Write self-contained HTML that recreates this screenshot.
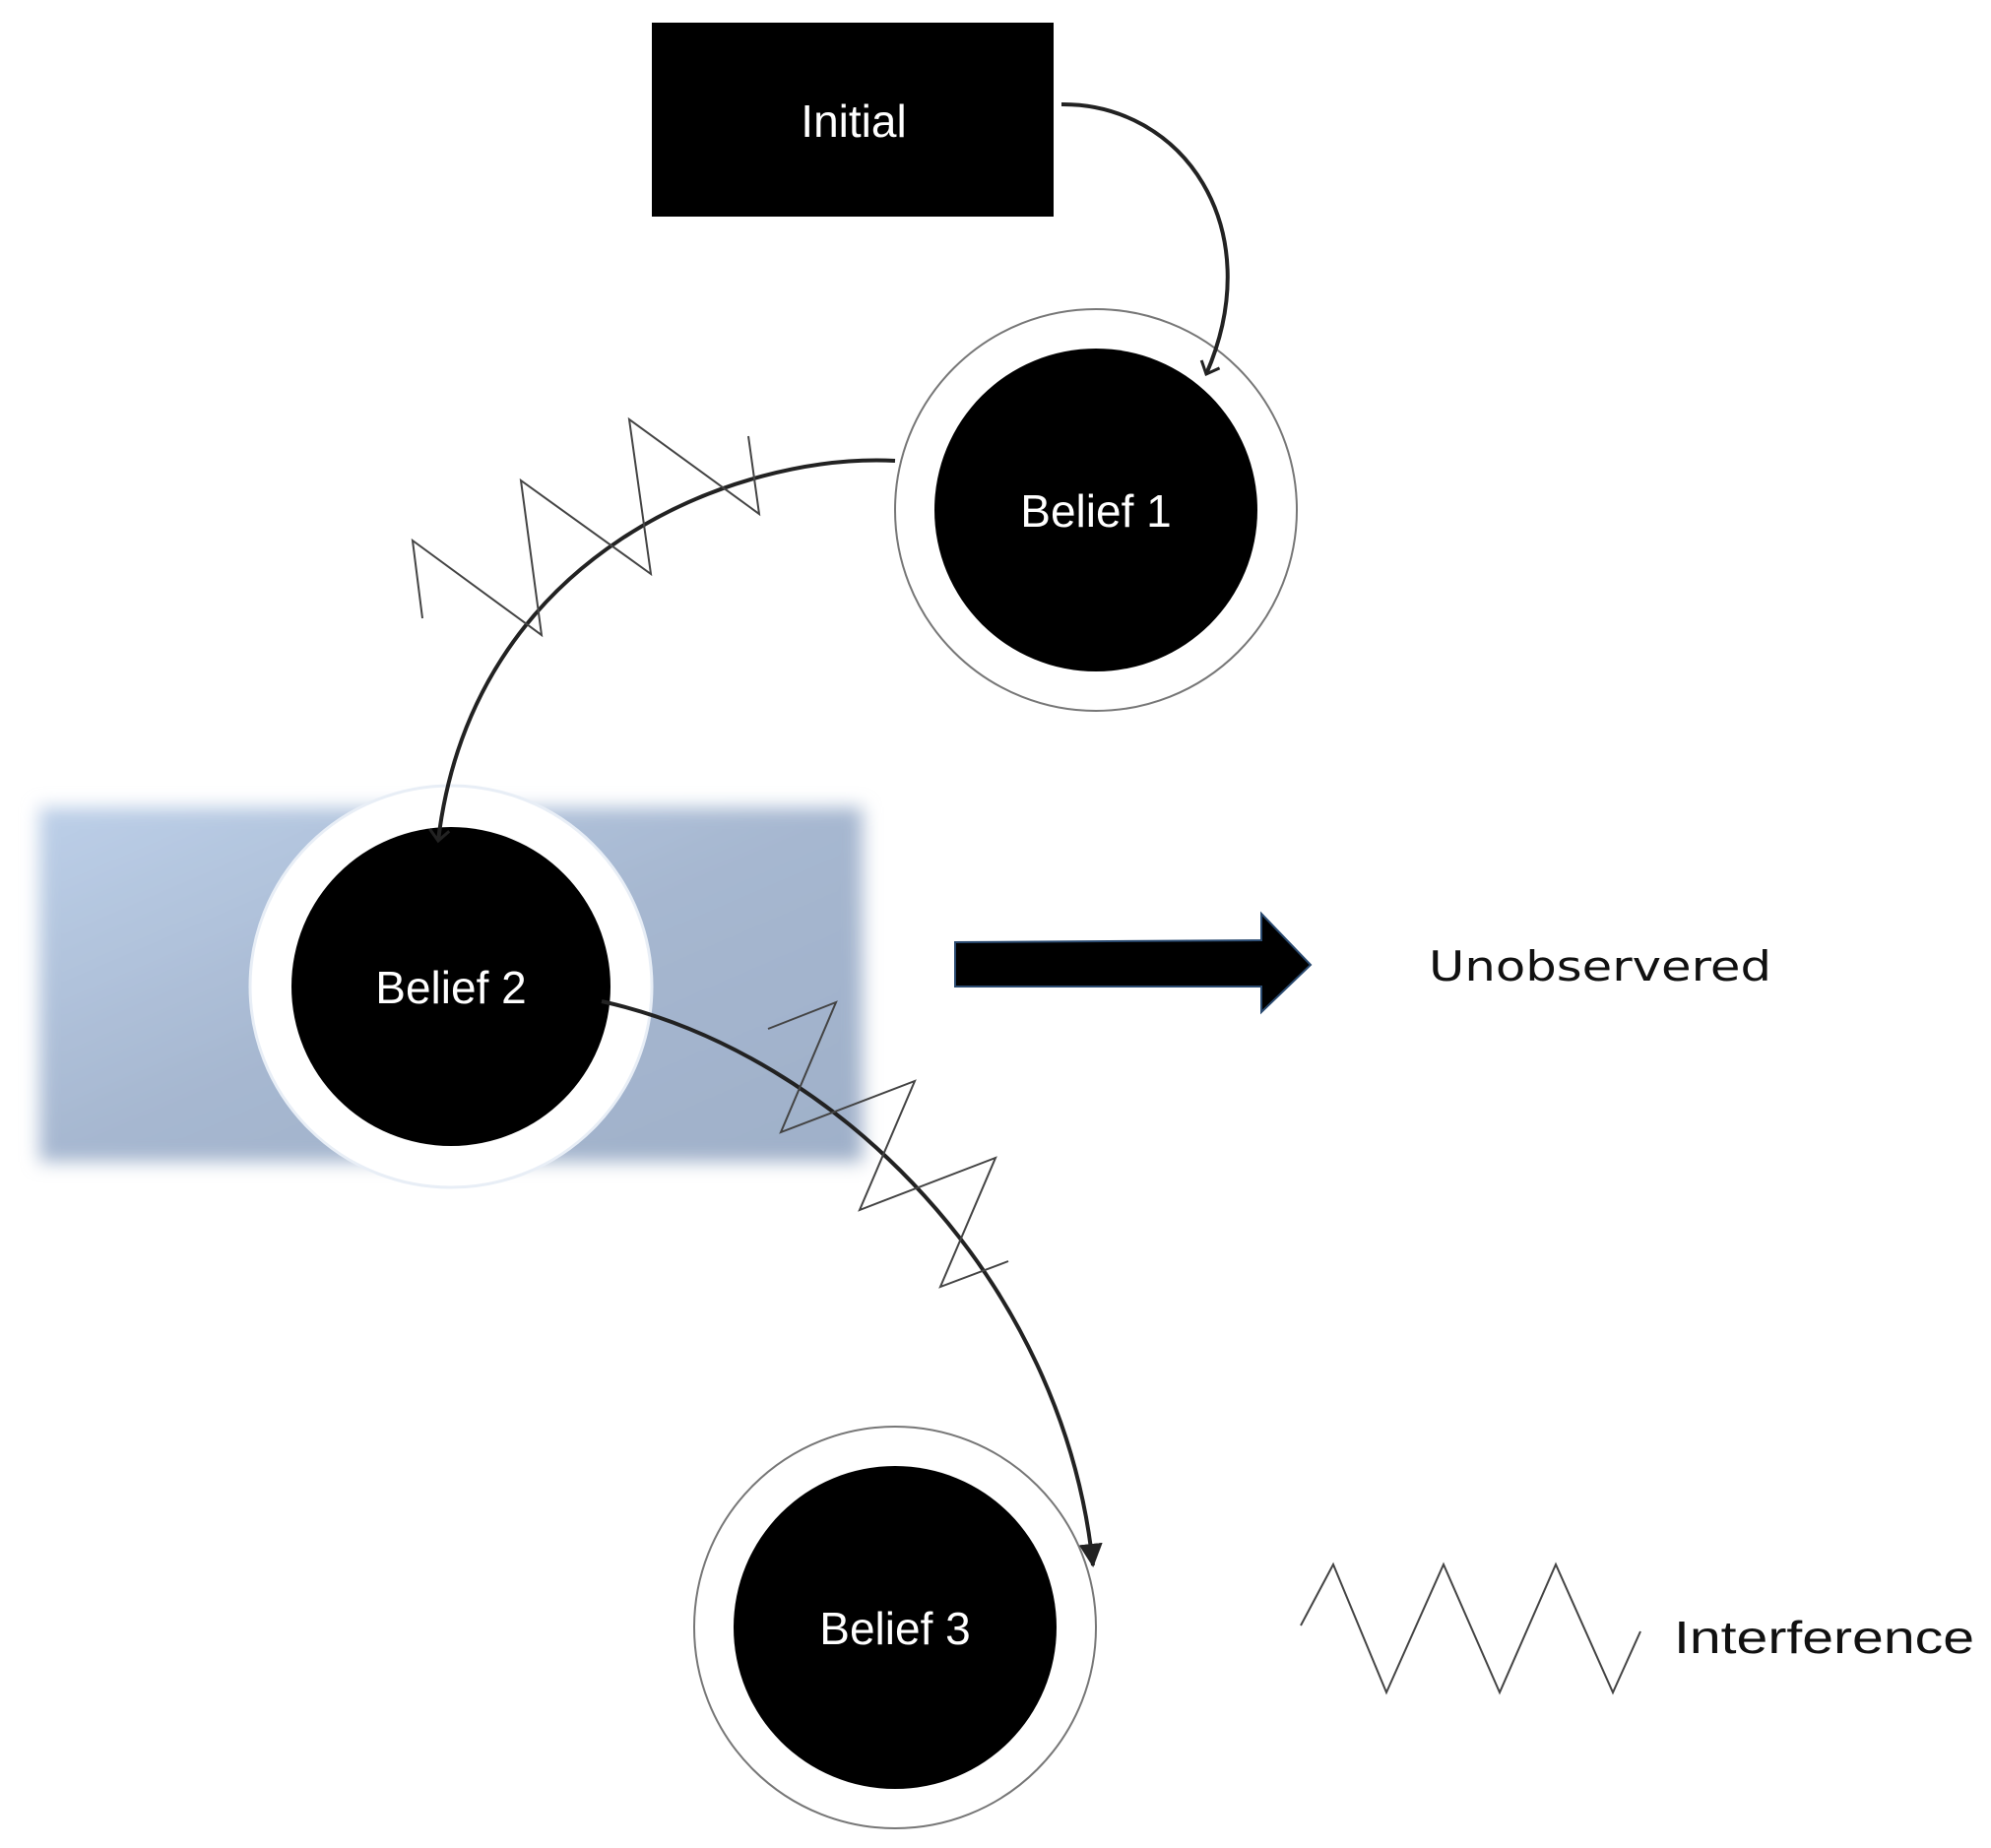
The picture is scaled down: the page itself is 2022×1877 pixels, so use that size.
<!DOCTYPE html>
<html><head><meta charset="utf-8"><style>html,body{margin:0;padding:0;background:#fff}svg{display:block}</style></head>
<body>
<svg width="2022" height="1877" viewBox="0 0 2022 1877" xmlns="http://www.w3.org/2000/svg">
<defs>
<filter id="blur" x="-10%" y="-10%" width="120%" height="120%"><feGaussianBlur stdDeviation="9"/></filter>
<linearGradient id="bg" x1="0" y1="0" x2="1" y2="1"><stop offset="0" stop-color="#bccfe8"/><stop offset="0.5" stop-color="#a6b7d0"/><stop offset="1" stop-color="#9fb0c9"/></linearGradient>
<marker id="open" markerWidth="30" markerHeight="30" refX="15" refY="15" orient="auto" markerUnits="userSpaceOnUse"><path d="M4,5 L15,15 L4,25" fill="none" stroke="#222" stroke-width="3"/></marker>
<marker id="fill" markerWidth="30" markerHeight="30" refX="22" refY="12" orient="auto" markerUnits="userSpaceOnUse"><path d="M0,0 L24,12 L0,24 z" fill="#222"/></marker>
</defs>
<rect x="40" y="820" width="836" height="360" fill="url(#bg)" filter="url(#blur)"/>
<!-- Initial -->
<rect x="662" y="23" width="408" height="197" fill="#000"/>
<text x="867" y="139" font-family="Liberation Sans, sans-serif" font-size="46" fill="#fff" text-anchor="middle">Initial</text>
<!-- Belief 1 -->
<circle cx="1113" cy="518" r="204" fill="#fff" stroke="#777" stroke-width="2"/>
<circle cx="1113" cy="518" r="164" fill="#000"/>
<text x="1113" y="535" font-family="Liberation Sans, sans-serif" font-size="46" fill="#fff" text-anchor="middle">Belief 1</text>
<!-- Belief 2 -->
<circle cx="458" cy="1002" r="204" fill="#fff" stroke="#e8eef6" stroke-width="3"/>
<circle cx="458" cy="1002" r="162" fill="#000"/>
<text x="458" y="1019" font-family="Liberation Sans, sans-serif" font-size="46" fill="#fff" text-anchor="middle">Belief 2</text>
<!-- Belief 3 -->
<circle cx="909" cy="1653" r="204" fill="#fff" stroke="#777" stroke-width="2"/>
<circle cx="909" cy="1653" r="164" fill="#000"/>
<text x="909" y="1670" font-family="Liberation Sans, sans-serif" font-size="46" fill="#fff" text-anchor="middle">Belief 3</text>
<!-- connectors -->
<path d="M1078,106 C1200,105 1290,230 1225,380" fill="none" stroke="#222" stroke-width="4" marker-end="url(#open)"/>
<path d="M909,468 C750,460 480,560 445,854" fill="none" stroke="#222" stroke-width="4" marker-end="url(#open)"/>
<path d="M611,1017 C850,1070 1080,1300 1110,1590" fill="none" stroke="#222" stroke-width="4" marker-end="url(#fill)"/>
<!-- zigzags -->
<polyline points="429,628 419,549 550,645 529,488 661,583 639,426 771,522 760,443" fill="none" stroke="#444" stroke-width="2"/>
<polyline points="780,1045 849,1018 793,1150 929,1098 873,1229 1011,1176 955,1307 1024,1281" fill="none" stroke="#444" stroke-width="2"/>
<polyline points="1321,1651 1354,1589 1408,1719 1466,1589 1523,1719 1580,1589 1638,1719 1666,1657" fill="none" stroke="#444" stroke-width="2"/>
<!-- big arrow -->
<path d="M970,957 L1281,955 L1281,928 L1331,980 L1281,1028 L1281,1002 L970,1002 z" fill="#000" stroke="#2a4a70" stroke-width="2"/>
<text x="1451" y="996" font-family="DejaVu Sans, sans-serif" font-size="42" fill="#111" textLength="348" lengthAdjust="spacingAndGlyphs">Unobservered</text>
<text x="1700" y="1679" font-family="Liberation Sans, sans-serif" font-size="46" fill="#111" textLength="305" lengthAdjust="spacingAndGlyphs">Interference</text>
</svg>
</body></html>
